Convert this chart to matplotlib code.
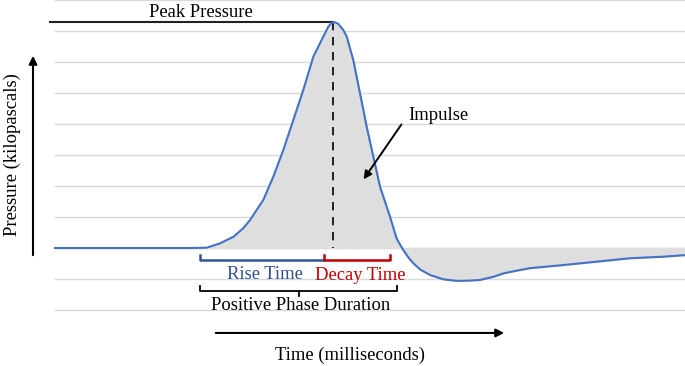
import matplotlib
matplotlib.use("Agg")
import matplotlib.pyplot as plt
import numpy as np

# --- datos de la curva (tiempo arbitrario, presion en pasos de rejilla) ---
t = [-15.0, -1.5, 0.17, 1.5, 2.83, 3.83, 4.5, 5.17, 5.83, 6.83, 7.83, 8.83,
     9.83, 10.83, 11.83, 12.33, 12.67, 13.0, 13.33, 13.83, 14.17, 14.83, 15.5,
     16.17, 16.83, 17.5, 18.5, 19.17, 19.83, 20.33, 20.83, 21.5, 22.5, 23.83,
     25.17, 26.5, 27.5, 28.83, 29.83, 31.17, 32.5, 35.83, 39.17, 42.5, 45.83,
     48.0]
presion = [0.0, 0.0, 0.01, 0.15, 0.36, 0.64, 0.90, 1.23, 1.55, 2.30, 3.16, 4.13,
           5.10, 6.17, 6.82, 7.14, 7.27, 7.28, 7.23, 7.03, 6.82, 6.06, 4.99,
           3.91, 2.95, 1.98, 1.01, 0.30, -0.065, -0.30, -0.49, -0.69, -0.87, -1.01,
           -1.06, -1.05, -1.03, -0.93, -0.82, -0.73, -0.65, -0.55, -0.44, -0.33, -0.28,
           -0.23]

t_pico = 12.8
p_pico = 7.28
rejilla = np.arange(-2, 9)

inicio = -0.5
fin_subida = 11.9
fin_caida = 18.5
fin_positiva = 19.2

plt.rcParams['font.family'] = ['Liberation Serif', 'DejaVu Serif']
fs = 13.4

fig = plt.figure(figsize=(6.85, 3.66), dpi=100)
ax = fig.add_axes([0, 0, 1, 1])
ax.set_xlim(-20.5, 48)
ax.set_ylim(-3.806, 8.0)
ax.axis('off')

# rejilla horizontal
for g in rejilla:
    ax.plot([-15, 48], [g, g], color='#d9d9d9', lw=1, zorder=0)

ax.fill_between(t, presion, 0, color='#dedede', zorder=1)
ax.plot(t, presion, color='#4472C4', lw=1.5, zorder=3)

# pico
ax.plot([-15.5, t_pico], [p_pico, p_pico], color='#222222', lw=1.5, zorder=2)
ax.plot([t_pico, t_pico], [p_pico, 0], color='black', lw=1.2, ls=(0, (5, 4)), zorder=2)
ax.text(-0.4, 7.61, "Peak Pressure", ha='center', va='center', fontsize=fs)

# corchetes
y_b = -0.387
y_t = -0.226
ax.plot([inicio, inicio, fin_subida], [y_t, y_b, y_b], color='#2F5597', lw=1.8)
ax.plot([fin_subida, fin_subida, fin_caida, fin_caida], [y_t, y_b, y_b, y_t], color='#C00000', lw=1.8)
ax.text((inicio + fin_subida) / 2 + 0.3, -0.87, "Rise Time", ha='center', va='center',
        fontsize=fs, color='#2F4F8F')
ax.text((fin_subida + fin_caida) / 2 + 0.3, -0.9, "Decay Time", ha='center', va='center',
        fontsize=fs, color='#C00000')

y_b2 = -1.387
y_t2 = -1.226
medio = 9.4
ax.plot([inicio, inicio, fin_positiva, fin_positiva], [y_t2, y_b2, y_b2, y_t2], color='black', lw=1.3)
ax.plot([medio, medio], [y_b2, -1.55], color='black', lw=1.3)
ax.text(9.6, -1.87, "Positive Phase Duration", ha='center', va='center', fontsize=fs)

# impulso
ax.annotate("", xy=(15.7, 2.14), xytext=(19.8, 4.06),
            arrowprops=dict(arrowstyle='-|>', color='black', lw=1.4, mutation_scale=12))
ax.text(20.3, 4.29, "Impulse", ha='left', va='center', fontsize=fs)

# ejes con flecha
ax.annotate("", xy=(30.2, -2.74), xytext=(0.8, -2.74),
            arrowprops=dict(arrowstyle='-|>', color='black', lw=1.5, mutation_scale=12))
ax.text(14.5, -3.45, "Time (milliseconds)", ha='center', va='center', fontsize=fs)
ax.annotate("", xy=(-17.2, 6.29), xytext=(-17.2, -0.32),
            arrowprops=dict(arrowstyle='-|>', color='black', lw=1.5, mutation_scale=12))
ax.text(-19.3, 3.0, "Pressure (kilopascals)", ha='center', va='center', fontsize=fs, rotation=90)

fig.savefig("out.png", dpi=100)
